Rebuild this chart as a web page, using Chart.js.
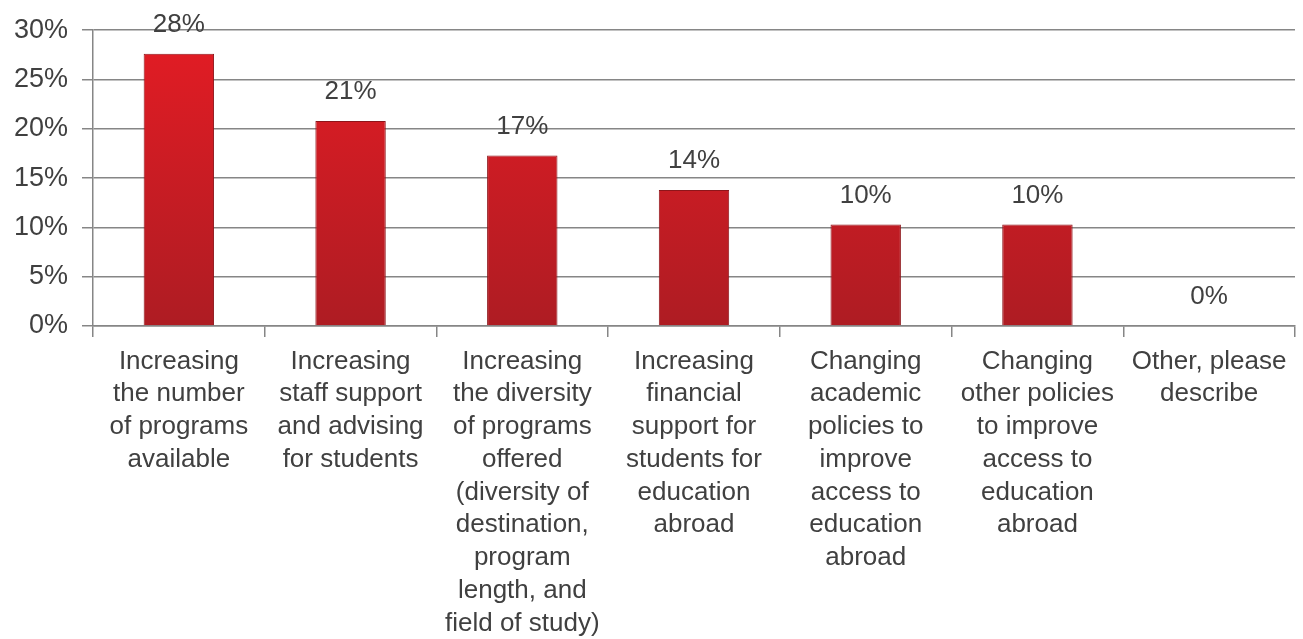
<!DOCTYPE html>
<html>
<head>
<meta charset="utf-8">
<script src="https://cdn.jsdelivr.net/npm/chart.js@4.4.1/dist/chart.umd.min.js"></script>
<style>
  html, body { margin: 0; padding: 0; background: #fff; }
  #wrap { width: 1303px; height: 639px; }
</style>
</head>
<body>
<div id="wrap"><canvas id="myBarChart"></canvas></div>
<script>
// categories, values (percent) and y tick labels
const categories = [
    ["Increasing", "the number", "of programs", "available"],
    ["Increasing", "staff support", "and advising", "for students"],
    ["Increasing", "the diversity", "of programs", "offered", "(diversity of", "destination,", "program", "length, and", "field of study)"],
    ["Increasing", "financial", "support for", "students for", "education", "abroad"],
    ["Changing", "academic", "policies to", "improve", "access to", "education", "abroad"],
    ["Changing", "other policies", "to improve", "access to", "education", "abroad"],
    ["Other, please", "describe"]
];
const shares = [27.6, 20.8, 17.3, 13.8, 10.3, 10.3, 0];
const yTicks = [0, 5, 10, 15, 20, 25, 30];

const textColor = "#404040";
const gridColor = "#868686";
const fontFamily = "'Liberation Sans', Arial, sans-serif";

// draws the percent labels above each bar
const valueLabels = {
    id: 'valueLabels',
    afterDatasetsDraw(chart) {
        const ctx = chart.ctx;
        const meta = chart.getDatasetMeta(0);
        ctx.save();
        ctx.font = "26px " + fontFamily;
        ctx.fillStyle = textColor;
        ctx.textAlign = "center";
        ctx.textBaseline = "bottom";
        meta.data.forEach((bar, i) => {
            ctx.fillText(Math.round(shares[i]) + "%", bar.x, bar.y - 16);
        });
        ctx.restore();
    }
};

function barFill(context) {
    const area = context.chart.chartArea;
    if (!area) return "#d81e26";
    const g = context.chart.ctx.createLinearGradient(0, area.top, 0, area.bottom);
    g.addColorStop(0, "#e41c24");
    g.addColorStop(1, "#ae1c23");
    return g;
}

new Chart(document.getElementById("myBarChart"), {
    type: 'bar',
    data: {
        labels: categories,
        datasets: [{
            data: shares,
            backgroundColor: barFill,
            borderColor: "#8e151a",
            borderWidth: 1,
            barPercentage: 0.41,
            categoryPercentage: 1.0
        }]
    },
    plugins: [valueLabels],
    options: {
        responsive: true,
        maintainAspectRatio: false,
        animation: false,
        layout: { padding: { top: 19, right: 8, left: 0, bottom: 0 } },
        plugins: {
            legend: { display: false },
            tooltip: { enabled: false }
        },
        scales: {
            x: {
                afterFit(axis) {
                    axis.height = 313;
                },
                grid: {
                    offset: true,
                    drawOnChartArea: false,
                    drawTicks: true,
                    tickLength: 11,
                    color: gridColor,
                    lineWidth: 1.5
                },
                border: { color: gridColor, width: 1.5 },
                ticks: {
                    color: textColor,
                    font: { family: fontFamily, size: 26, lineHeight: 1.26 },
                    maxRotation: 0,
                    minRotation: 0,
                    autoSkip: false,
                    padding: 8
                }
            },
            y: {
                min: 0,
                max: 30,
                afterBuildTicks(axis) {
                    axis.ticks = yTicks.map(v => ({ value: v }));
                },
                afterFit(axis) {
                    axis.width = 93;
                },
                grid: {
                    color: gridColor,
                    lineWidth: 1.5,
                    drawTicks: true,
                    tickLength: 11
                },
                border: { color: gridColor, width: 1.5 },
                ticks: {
                    color: textColor,
                    font: { family: fontFamily, size: 27 },
                    padding: 14,
                    callback: v => v + "%"
                }
            }
        }
    }
});
</script>
</body>
</html>
